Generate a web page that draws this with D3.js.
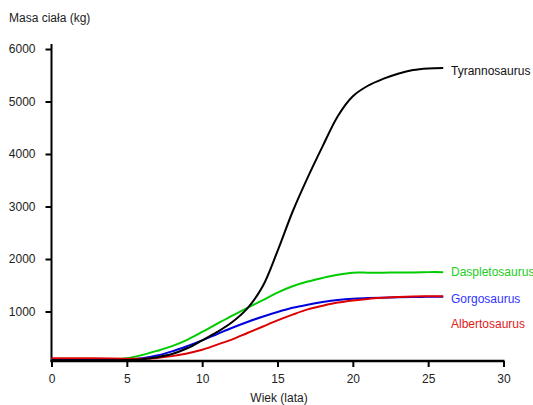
<!DOCTYPE html>
<html>
<head>
<meta charset="utf-8">
<script src="https://cdn.jsdelivr.net/npm/d3@7"></script>
<style>
  body { margin: 0; background: #fff; }
  text { font-family: "Liberation Sans", Arial, sans-serif; }
</style>
</head>
<body>
<script>
// Dane: wiek (lata) i masa ciała (kg)
const ages = [0, 2, 4, 5, 6, 7, 8, 9, 10, 11, 12, 13, 14, 15, 16, 17, 18, 19, 20, 21, 22, 23, 24, 25, 26];
const tyrannosaurus  = [70, 70, 70, 75, 90, 130, 190, 300, 450, 610, 800, 1060, 1470, 2150, 2900, 3550, 4150, 4720, 5100, 5300, 5430, 5530, 5600, 5630, 5640];
const daspletosaurus = [90, 90, 95, 110, 170, 250, 340, 460, 610, 770, 920, 1070, 1210, 1360, 1480, 1570, 1640, 1700, 1740, 1740, 1740, 1745, 1745, 1750, 1750];
const gorgosaurus    = [80, 80, 80, 85, 110, 160, 240, 340, 450, 570, 690, 800, 900, 990, 1070, 1130, 1180, 1220, 1245, 1255, 1262, 1270, 1275, 1280, 1280];
const albertosaurus  = [110, 110, 105, 100, 100, 115, 150, 200, 270, 370, 470, 590, 710, 830, 940, 1040, 1110, 1170, 1210, 1240, 1260, 1275, 1285, 1290, 1290];
const xTicks = [0, 5, 10, 15, 20, 25, 30];
const yTicks = [1000, 2000, 3000, 4000, 5000, 6000];

const series = [
  { name: "Daspletosaurus", values: daspletosaurus, line: "#00cc00", label: "#22cc22" },
  { name: "Gorgosaurus", values: gorgosaurus, line: "#0000dd", label: "#3333ff" },
  { name: "Albertosaurus", values: albertosaurus, line: "#dd0000", label: "#e02020" },
  { name: "Tyrannosaurus", values: tyrannosaurus, line: "#000000", label: "#111111" }
];

const width = 533, height = 405;
const svg = d3.select("body").append("svg")
    .attr("width", width)
    .attr("height", height);

const x = d3.scaleLinear().domain([0, 30]).range([51.5, 503.5]);
const y = d3.scaleLinear().domain([0, 6000]).range([364, 49]);
const axisY = 361; // położenie osi X

// Oś Y
const gy = svg.append("g")
    .attr("transform", "translate(51.5,0)")
    .call(d3.axisLeft(y).tickValues(yTicks).tickSize(6).tickPadding(10).tickFormat(d3.format("d")));
gy.select(".domain").remove();
gy.selectAll("line").attr("stroke", "#000").attr("stroke-width", 2);
gy.selectAll("text").attr("font-size", 12).attr("fill", "#222");
svg.append("line")
    .attr("x1", 51.5).attr("x2", 51.5)
    .attr("y1", 44).attr("y2", axisY + 1)
    .attr("stroke", "#000").attr("stroke-width", 2);

// Oś X
const gx = svg.append("g")
    .attr("transform", `translate(0,${axisY})`)
    .call(d3.axisBottom(x).tickValues(xTicks).tickSize(6).tickPadding(7));
gx.select(".domain").remove();
gx.selectAll("line").attr("stroke", "#000").attr("stroke-width", 2);
gx.selectAll("text").attr("font-size", 12).attr("fill", "#222");
svg.append("line")
    .attr("x1", 50.5).attr("x2", x(30) + 1)
    .attr("y1", axisY).attr("y2", axisY)
    .attr("stroke", "#000").attr("stroke-width", 2.5);

// Krzywe wzrostu
const line = d3.line()
    .x((d, i) => x(ages[i]))
    .y(d => y(d))
    .curve(d3.curveCatmullRom.alpha(0.5));

svg.selectAll(".curve")
  .data(series)
  .join("path")
    .attr("class", "curve")
    .attr("d", d => line(d.values))
    .attr("fill", "none")
    .attr("stroke", d => d.line)
    .attr("stroke-width", 2);

// Etykiety gatunków
const labelY = { Tyrannosaurus: 71, Daspletosaurus: 272, Gorgosaurus: 299, Albertosaurus: 324 };
svg.selectAll(".label")
  .data(series)
  .join("text")
    .attr("class", "label")
    .attr("x", 451)
    .attr("y", d => labelY[d.name])
    .attr("dy", "0.35em")
    .attr("font-size", 12)
    .attr("fill", d => d.label)
    .text(d => d.name);

// Tytuły osi
svg.append("text")
    .attr("x", 9).attr("y", 18).attr("dy", "0.35em")
    .attr("font-size", 12).attr("fill", "#222")
    .text("Masa ciała (kg)");
svg.append("text")
    .attr("x", 279).attr("y", 398).attr("dy", "0.35em")
    .attr("text-anchor", "middle")
    .attr("font-size", 12).attr("fill", "#222")
    .text("Wiek (lata)");
</script>
</body>
</html>
